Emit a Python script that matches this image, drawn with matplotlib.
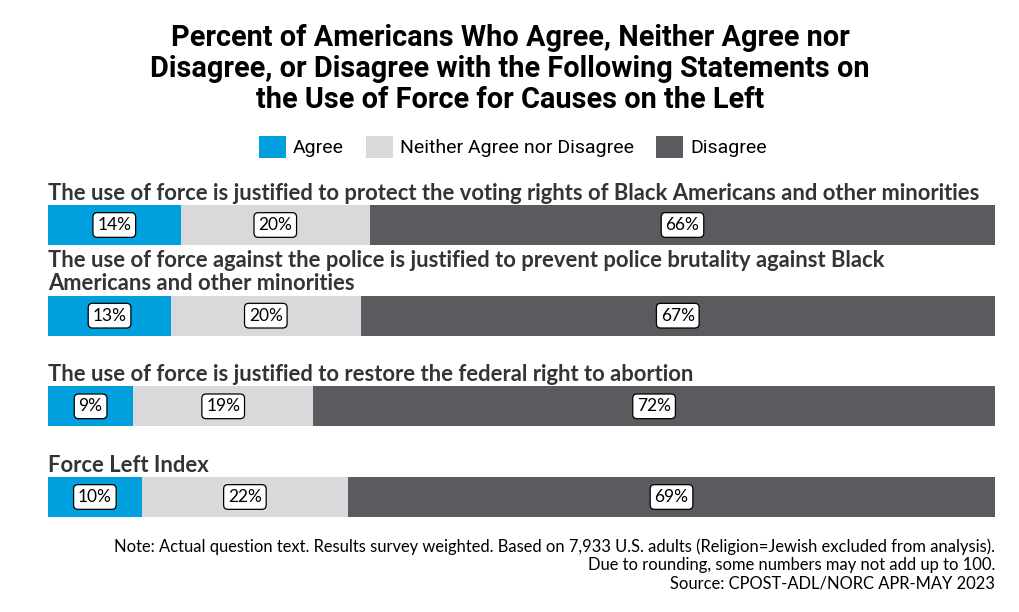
import matplotlib
matplotlib.use("Agg")
import matplotlib.pyplot as plt
from matplotlib.patches import Patch

categories = [
    "The use of force is justified to protect the voting rights of Black Americans and other minorities",
    "The use of force against the police is justified to prevent police brutality against Black\nAmericans and other minorities",
    "The use of force is justified to restore the federal right to abortion",
    "Force Left Index",
]
agree = [14, 13, 9, 10]
neither = [20, 20, 19, 22]
disagree = [66, 67, 72, 69]
series_names = ["Agree", "Neither Agree nor Disagree", "Disagree"]
colors = ["#009FDD", "#D9D9DB", "#5A5B5F"]

title = ("Percent of Americans Who Agree, Neither Agree nor\n"
         "Disagree, or Disagree with the Following Statements on\n"
         "the Use of Force for Causes on the Left")
note = ("Note: Actual question text. Results survey weighted. Based on 7,933 U.S. adults (Religion=Jewish excluded from analysis).\n"
        "Due to rounding, some numbers may not add up to 100.\n"
        "Source: CPOST-ADL/NORC APR-MAY 2023")

W, H = 1020, 612
fig = plt.figure(figsize=(W / 100, H / 100), dpi=100)
fig.patch.set_facecolor("white")

# bar axes
x0, x1 = 48, 995
ytop, ybot = 205, 517
ax = fig.add_axes([x0 / W, 1 - ybot / H, (x1 - x0) / W, (ybot - ytop) / H])
n = len(categories)
spacing = (ybot - ytop - 40) / (n - 1)
half = 20 / spacing
ax.set_xlim(0, 100)
ax.set_ylim(n - 1 + half, -half)
ax.axis("off")

for i in range(n):
    vals = [agree[i], neither[i], disagree[i]]
    tot = sum(vals)
    left = 0
    for v, c in zip(vals, colors):
        w = v / tot * 100
        ax.barh(i, w, left=left, height=2 * half, color=c, edgecolor="none")
        ax.text(left + w / 2, i, f"{v}%", ha="center", va="center",
                fontsize=12.5, family="Lato", color="black",
                bbox=dict(boxstyle="round,pad=0.25,rounding_size=0.25",
                          fc="white", ec="black", lw=0.9))
        left += w
    ax.annotate(categories[i], xy=(0, i - half), xycoords="data",
                xytext=(0, 1), textcoords="offset points",
                ha="left", va="bottom", fontsize=15.8, family="Lato",
                fontweight="bold", color="#333338", linespacing=1.15,
                annotation_clip=False)

fig.text(0.5, 1 - 24 / H, title, ha="center", va="top", fontsize=20.8,
         family="Roboto", fontweight="bold", color="black", linespacing=1.14)

handles = [Patch(facecolor=c, edgecolor="none", label=s) for s, c in zip(series_names, colors)]
fig.legend(handles=handles, loc="center", bbox_to_anchor=(513 / W, 1 - 147 / H),
           ncol=3, frameon=False, prop={"family": "Roboto", "size": 14},
           handlelength=1.38, handleheight=1.38, handletextpad=0.35, columnspacing=1.15)

fig.text(x1 / W, 1 - 538 / H, note, ha="right", va="top", fontsize=11.9,
         family="Lato", color="black", linespacing=1.2)

fig.savefig("out.png", dpi=100, facecolor="white")
